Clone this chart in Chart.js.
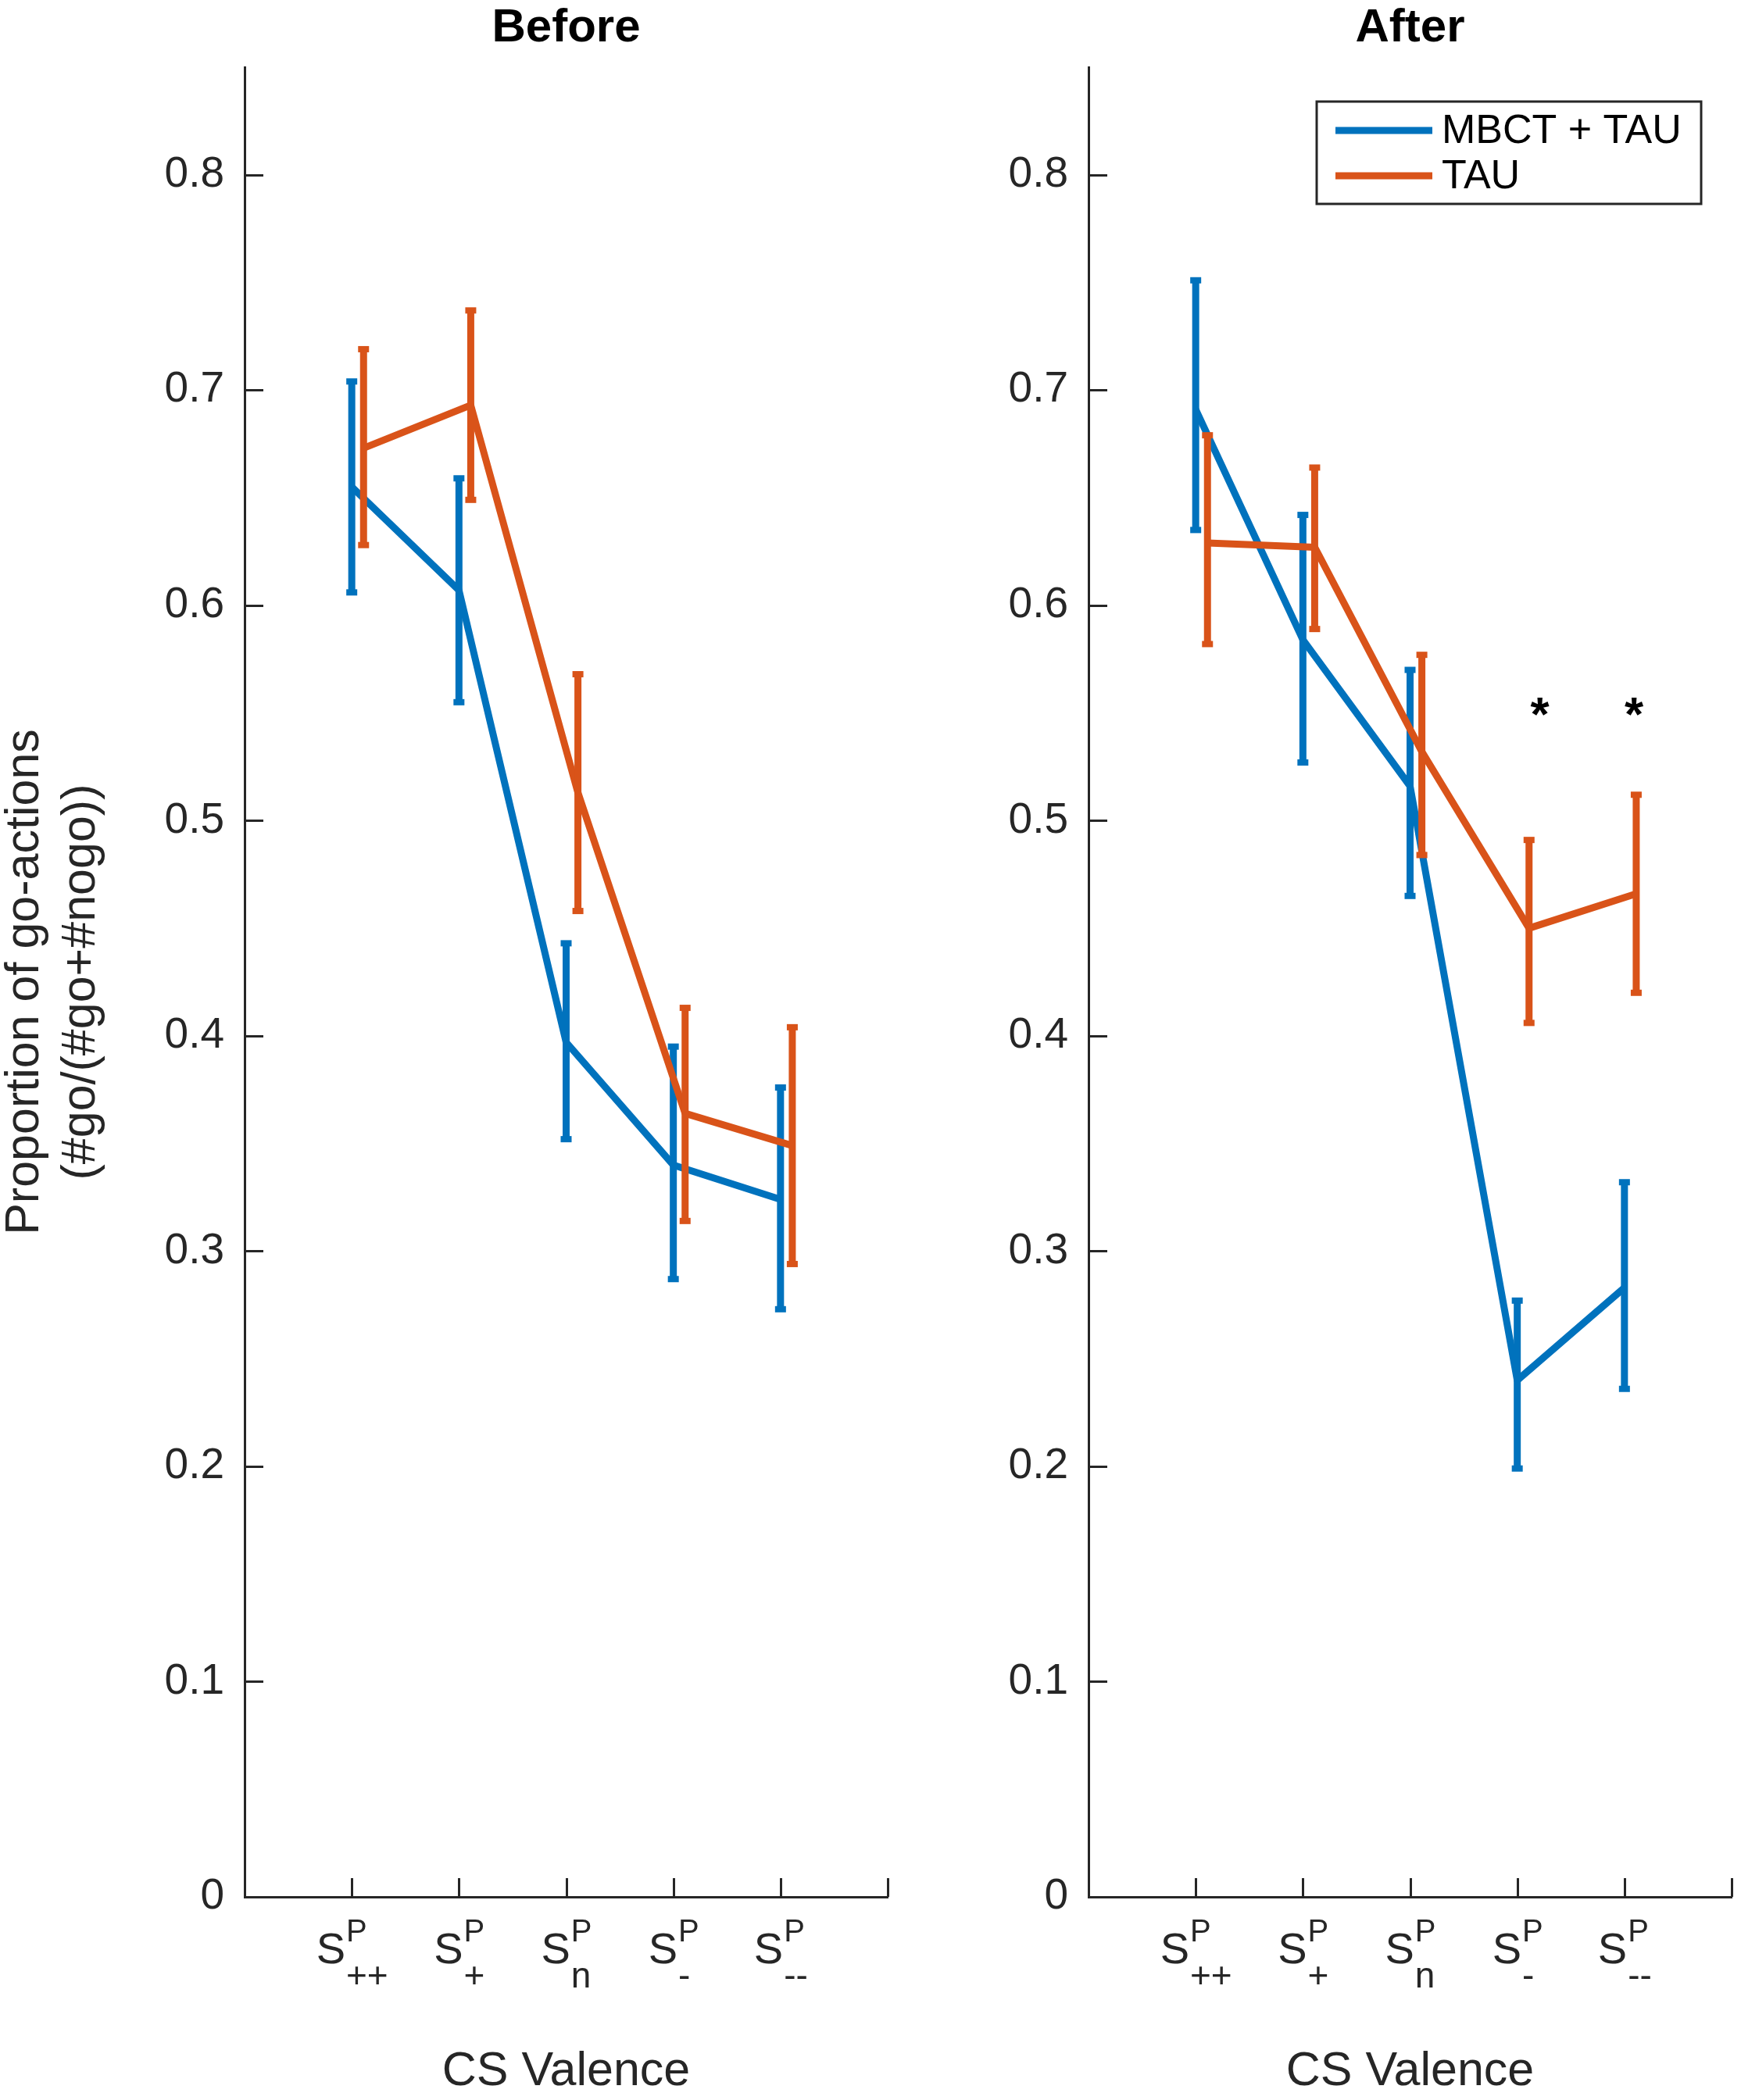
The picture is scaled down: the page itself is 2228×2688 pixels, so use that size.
<!DOCTYPE html>
<html>
<head>
<meta charset="utf-8">
<script src="https://cdn.jsdelivr.net/npm/chart.js@4.4.1/dist/chart.umd.min.js"></script>
<style>
  html, body { margin: 0; padding: 0; background: #fff; overflow: hidden; }
  #wrap { position: relative; width: 2228px; height: 2688px; }
  canvas { position: absolute; top: 0; }
  #before { left: 0; }
  #after { left: 1080px; }
</style>
</head>
<body>
<div id="wrap">
  <canvas id="before" width="1148" height="2688" style="width:1148px;height:2688px"></canvas>
  <canvas id="after" width="1148" height="2688" style="width:1148px;height:2688px"></canvas>
</div>
<script>
// categories: S^P with a subscript
const tickBase = "S";
const tickSup = "P";
const tickSubs = ["++", "+", "n", "-", "--"];
const yTickLabels = ["0", "0.1", "0.2", "0.3", "0.4", "0.5", "0.6", "0.7", "0.8"];

const seriesNames = ["MBCT + TAU", "TAU"];

// Before
const beforeMbct     = [0.655, 0.607, 0.397, 0.340, 0.324];
const beforeMbctLow  = [0.606, 0.555, 0.352, 0.287, 0.273];
const beforeMbctHigh = [0.704, 0.659, 0.443, 0.395, 0.376];
const beforeTau      = [0.673, 0.693, 0.513, 0.364, 0.349];
const beforeTauLow   = [0.628, 0.649, 0.458, 0.314, 0.294];
const beforeTauHigh  = [0.719, 0.737, 0.568, 0.413, 0.404];

// After
const afterMbct      = [0.691, 0.584, 0.516, 0.240, 0.283];
const afterMbctLow   = [0.635, 0.527, 0.465, 0.199, 0.236];
const afterMbctHigh  = [0.751, 0.642, 0.570, 0.277, 0.332];
const afterTau       = [0.629, 0.627, 0.532, 0.450, 0.466];
const afterTauLow    = [0.582, 0.589, 0.484, 0.406, 0.420];
const afterTauHigh   = [0.679, 0.664, 0.577, 0.491, 0.512];

// significance marks (After panel)
const starX = [4.21, 5.09];
const starY = [0.555, 0.555];

const BLUE = "#0072BD";
const ORANGE = "#D95319";
const AXIS = "#262626";
const FONT = "'Liberation Sans', Arial, Helvetica, sans-serif";
const TAU_SHIFT = 0.11;

Chart.defaults.font.family = FONT;
Chart.defaults.color = AXIS;

const toPoints = (vals, shift) => vals.map((v, i) => ({ x: i + 1 + shift, y: v }));

// vertical error bars with small caps, drawn right after each line
const errorBars = {
  id: "errorBars",
  afterDatasetDraw(chart, args) {
    const ds = chart.data.datasets[args.index];
    if (!ds.low) return;
    const yScale = chart.scales.y;
    const ctx = chart.ctx;
    ctx.save();
    ctx.strokeStyle = ds.borderColor;
    ctx.fillStyle = ds.borderColor;
    ctx.lineWidth = ds.borderWidth;
    args.meta.data.forEach((pt, i) => {
      const yl = yScale.getPixelForValue(ds.low[i]);
      const yh = yScale.getPixelForValue(ds.high[i]);
      ctx.beginPath();
      ctx.moveTo(pt.x, yl);
      ctx.lineTo(pt.x, yh);
      ctx.stroke();
      ctx.fillRect(pt.x - 7, yl - 4, 14, 8);
      ctx.fillRect(pt.x - 7, yh - 4, 14, 8);
    });
    ctx.restore();
  }
};

// inward tick marks, MATLAB style
const innerTicks = {
  id: "innerTicks",
  afterDraw(chart) {
    const { ctx, chartArea } = chart;
    const xs = chart.scales.x, ys = chart.scales.y;
    ctx.save();
    ctx.strokeStyle = AXIS;
    ctx.lineWidth = 3;
    ctx.beginPath();
    ys.ticks.forEach(t => {
      const y = Math.round(ys.getPixelForValue(t.value)) + 0.5;
      ctx.moveTo(chartArea.left, y);
      ctx.lineTo(chartArea.left + 24, y);
    });
    xs.ticks.forEach(t => {
      const x = Math.round(xs.getPixelForValue(t.value)) + 0.5;
      ctx.moveTo(x, chartArea.bottom);
      ctx.lineTo(x, chartArea.bottom - 24);
    });
    ctx.stroke();
    ctx.restore();
  }
};

// S^P_sub category labels
const valenceLabels = {
  id: "valenceLabels",
  afterDraw(chart) {
    const { ctx, chartArea } = chart;
    const xs = chart.scales.x;
    const base = chartArea.bottom;
    ctx.save();
    ctx.fillStyle = AXIS;
    ctx.textAlign = "left";
    ctx.textBaseline = "alphabetic";
    tickSubs.forEach((sub, i) => {
      const cx = xs.getPixelForValue(i + 1);
      ctx.font = "56px " + FONT;
      const wS = ctx.measureText(tickBase).width;
      ctx.font = "40px " + FONT;
      const wP = ctx.measureText(tickSup).width;
      ctx.font = "46px " + FONT;
      const wB = ctx.measureText(sub).width;
      const left = cx - (wS + Math.max(wP, wB)) / 2;
      ctx.font = "56px " + FONT;
      ctx.fillText(tickBase, left, base + 85);
      ctx.font = "40px " + FONT;
      ctx.fillText(tickSup, left + wS + 1, base + 57);
      ctx.font = "46px " + FONT;
      ctx.fillText(sub, left + wS + 1, base + 116);
    });
    ctx.restore();
  }
};

// boxed legend inside the top right corner
const boxLegend = {
  id: "boxLegend",
  afterDraw(chart, args, opts) {
    if (!opts.show) return;
    const { ctx, chartArea } = chart;
    const w = 492, h = 131;
    const left = chartArea.right - 39 - w;
    const top = chartArea.top + 44;
    ctx.save();
    ctx.fillStyle = "#fff";
    ctx.fillRect(left, top, w, h);
    ctx.strokeStyle = AXIS;
    ctx.lineWidth = 3;
    ctx.strokeRect(left, top, w, h);
    chart.data.datasets.forEach((ds, i) => {
      const y = top + 37 + i * 58;
      ctx.strokeStyle = ds.borderColor;
      ctx.lineWidth = 9;
      ctx.beginPath();
      ctx.moveTo(left + 24, y);
      ctx.lineTo(left + 148, y);
      ctx.stroke();
      ctx.fillStyle = "#000";
      ctx.font = "52px " + FONT;
      ctx.textBaseline = "alphabetic";
      ctx.fillText(ds.label, left + 160, y + 16);
    });
    ctx.restore();
  }
};

// asterisks above significant points
const stars = {
  id: "stars",
  afterDraw(chart, args, opts) {
    if (!opts.xs) return;
    const { ctx } = chart;
    ctx.save();
    ctx.fillStyle = "#000";
    ctx.font = "bold 62px " + FONT;
    ctx.textAlign = "center";
    ctx.textBaseline = "alphabetic";
    opts.xs.forEach((x, i) => {
      const px = chart.scales.x.getPixelForValue(x);
      const py = chart.scales.y.getPixelForValue(opts.ys[i]);
      ctx.fillText("*", px, py + 36);
    });
    ctx.restore();
  }
};

function makePanel(canvasId, title, mbct, mbctLow, mbctHigh, tau, tauLow, tauHigh, showYTitle, showLegend, marks) {
  return new Chart(document.getElementById(canvasId), {
    type: "line",
    data: {
      datasets: [
        {
          label: seriesNames[0],
          data: toPoints(mbct, 0),
          low: mbctLow,
          high: mbctHigh,
          borderColor: BLUE,
          backgroundColor: BLUE,
          borderWidth: 9,
          pointRadius: 0,
          tension: 0,
          order: 1
        },
        {
          label: seriesNames[1],
          data: toPoints(tau, TAU_SHIFT),
          low: tauLow,
          high: tauHigh,
          borderColor: ORANGE,
          backgroundColor: ORANGE,
          borderWidth: 9,
          pointRadius: 0,
          tension: 0,
          order: 0
        }
      ]
    },
    options: {
      responsive: false,
      animation: false,
      devicePixelRatio: 1,
      layout: { padding: { left: 0, right: 12, top: 0, bottom: 0 } },
      elements: { line: { borderJoinStyle: "round" } },
      scales: {
        x: {
          type: "linear",
          min: 0,
          max: 6,
          ticks: { stepSize: 1, display: false },
          grid: { display: false, drawTicks: false },
          border: { display: true, color: AXIS, width: 3 },
          title: {
            display: true,
            text: "CS Valence",
            color: AXIS,
            font: { size: 61, lineHeight: 1 },
            padding: { top: 0, bottom: 5 }
          },
          afterFit: s => { s.height = 260; }
        },
        y: {
          type: "linear",
          min: 0,
          max: 0.85,
          ticks: {
            stepSize: 0.1,
            includeBounds: false,
            padding: 26,
            color: AXIS,
            font: { size: 55 },
            callback: (v, i) => yTickLabels[i]
          },
          grid: { display: false, drawTicks: false },
          border: { display: true, color: AXIS, width: 3 },
          title: {
            display: showYTitle,
            text: ["Proportion of go-actions", "(#go/(#go+#nogo))"],
            color: AXIS,
            font: { size: 61, lineHeight: 72 / 61 },
            padding: { top: -4, bottom: 0 }
          },
          afterFit: s => { s.width = 313; }
        }
      },
      plugins: {
        legend: { display: false },
        tooltip: { enabled: false },
        title: {
          display: true,
          fullSize: false,
          text: title,
          color: "#000",
          font: { size: 60, weight: "bold", lineHeight: 1 },
          padding: { top: 6, bottom: 20 }
        },
        boxLegend: { show: showLegend },
        stars: marks
      }
    },
    plugins: [errorBars, innerTicks, valenceLabels, boxLegend, stars]
  });
}

makePanel("before", "Before",
  beforeMbct, beforeMbctLow, beforeMbctHigh,
  beforeTau, beforeTauLow, beforeTauHigh,
  true, false, {});

makePanel("after", "After",
  afterMbct, afterMbctLow, afterMbctHigh,
  afterTau, afterTauLow, afterTauHigh,
  false, true, { xs: starX, ys: starY });
</script>
</body>
</html>
